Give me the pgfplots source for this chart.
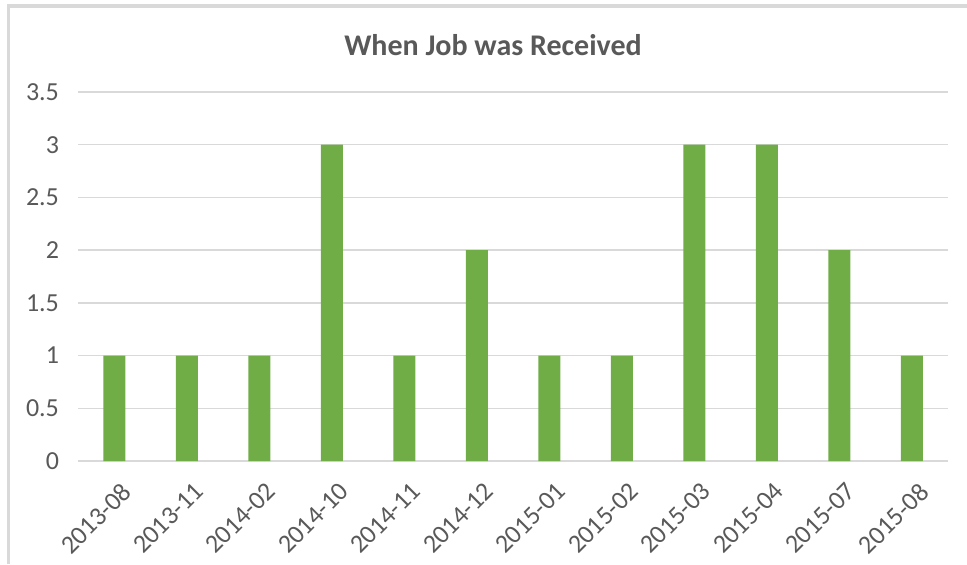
\documentclass[border=0pt]{standalone}
\usepackage{pgfplots}
\pgfplotsset{compat=1.18}
\usepackage{fontspec}
\setmainfont{Carlito}
\definecolor{bargreen}{HTML}{70AD47}
\definecolor{txtgray}{HTML}{595959}
\definecolor{gridgray}{HTML}{D9D9D9}
\begin{document}
\begin{tikzpicture}[x=0.5pt,y=0.5pt]
\useasboundingbox (0,0) rectangle (967,564);
\draw[gridgray, line width=1.5pt] (8,0) -- (8,558) -- (967,558);
\node[font=\bfseries\fontsize{15}{17}\selectfont, text=txtgray] at (493,519) {When Job was Received};
\begin{axis}[
  at={(39pt,51.5pt)}, anchor=south west,
  width=435pt, height=184.5pt, scale only axis,
  xmin=-0.5, xmax=11.5, ymin=0, ymax=3.5,
  ytick={0,0.5,1,1.5,2,2.5,3,3.5},
  ymajorgrids, grid style={gridgray, line width=0.75pt},
  axis line style={draw=none},
  major tick length=0pt,
  xtick=data,
  xticklabels={2013-08,2013-11,2014-02,2014-10,2014-11,2014-12,2015-01,2015-02,2015-03,2015-04,2015-07,2015-08},
  tick label style={font=\fontsize{13}{15}\selectfont, text=txtgray},
  x tick label style={xshift=3pt, yshift=-8.5pt, rotate=45, anchor=north east, inner sep=1pt},
  y tick label style={xshift=-6pt},
  /pgf/number format/assume math mode=true,
  ybar, bar width=11pt,
]
\addplot[fill=bargreen, draw=none] coordinates {
(0,1) (1,1) (2,1) (3,3) (4,1) (5,2) (6,1) (7,1) (8,3) (9,3) (10,2) (11,1)};
\end{axis}
\end{tikzpicture}
\end{document}
